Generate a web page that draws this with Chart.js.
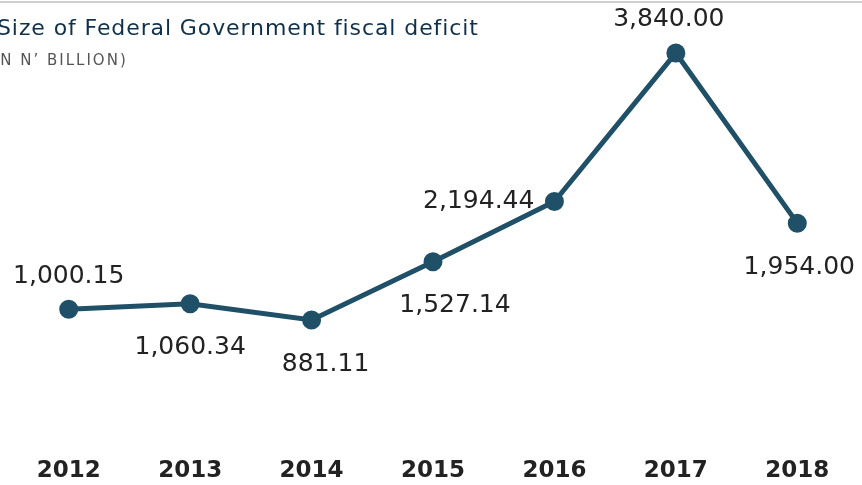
<!DOCTYPE html>
<html>
<head>
<meta charset="utf-8">
<script src="https://cdn.jsdelivr.net/npm/chart.js@4/dist/chart.umd.min.js"></script>
<style>
  body { margin: 0; background: #fff; }
  #wrap { position: relative; width: 862px; height: 485px; overflow: hidden; }
  #topline { position: absolute; left: 0; top: 1px; width: 862px; height: 2px; background: #cfcfcf; }
  #title { position: absolute; left: -3px; top: 15px; font-family: "DejaVu Sans", sans-serif; font-size: 22px; letter-spacing: 0.9px; color: #10304a; white-space: nowrap; }
  #subtitle { position: absolute; left: -14px; top: 51px; font-family: "DejaVu Sans", sans-serif; font-size: 15px; letter-spacing: 2px; color: #555; white-space: nowrap; }
  canvas { position: absolute; left: 0; top: 0; }
</style>
</head>
<body>
<div id="wrap">
  <canvas id="deficitChart" width="862" height="485"></canvas>
  <div id="topline"></div>
  <div id="title">Size of Federal Government fiscal deficit</div>
  <div id="subtitle">(IN N’ BILLION)</div>
</div>
<script>
const years = ['2012', '2013', '2014', '2015', '2016', '2017', '2018'];
const deficit = [1000.15, 1060.34, 881.11, 1527.14, 2194.44, 3840.00, 1954.00];
const deficitLabels = ['1,000.15', '1,060.34', '881.11', '1,527.14', '2,194.44', '3,840.00', '1,954.00'];

// where each value label sits relative to its point
const labelSide = ['above', 'below', 'below', 'below', 'left', 'above', 'below'];
const labelShift = [0, 0, 14, 22, 0, -7, 2];

const pointLabels = {
    id: 'pointLabels',
    afterDatasetsDraw(chart) {
        const ctx = chart.ctx;
        const meta = chart.getDatasetMeta(0);
        ctx.save();
        ctx.font = '25px "DejaVu Sans", sans-serif';
        ctx.fillStyle = '#222';
        ctx.textBaseline = 'middle';
        meta.data.forEach((pt, i) => {
            let x = pt.x + labelShift[i];
            let y = pt.y;
            ctx.textAlign = 'center';
            if (labelSide[i] === 'above') {
                y -= 33;
            } else if (labelSide[i] === 'below') {
                y += 44;
            } else {
                ctx.textAlign = 'right';
                x -= 20;
            }
            ctx.fillText(deficitLabels[i], x, y);
        });
        ctx.restore();
    }
};

const ctx = document.getElementById('deficitChart').getContext('2d');
new Chart(ctx, {
    type: 'line',
    data: {
        labels: years,
        datasets: [{
            data: deficit,
            borderColor: '#1f5067',
            backgroundColor: '#1f5067',
            borderWidth: 5,
            pointRadius: 7,
            pointHoverRadius: 7,
            tension: 0
        }]
    },
    options: {
        responsive: false,
        devicePixelRatio: 1,
        animation: false,
        layout: {
            autoPadding: false,
            padding: { left: 8, right: 4, top: 30, bottom: -17 }
        },
        plugins: {
            legend: { display: false },
            tooltip: { enabled: false }
        },
        scales: {
            x: {
                offset: true,
                grid: { display: false },
                border: { display: false },
                ticks: {
                    color: '#222',
                    padding: 17,
                    font: { family: '"DejaVu Sans", sans-serif', size: 23, weight: 'bold' }
                }
            },
            y: {
                display: false,
                min: -364,
                max: 4094
            }
        }
    },
    plugins: [pointLabels]
});
</script>
</body>
</html>
